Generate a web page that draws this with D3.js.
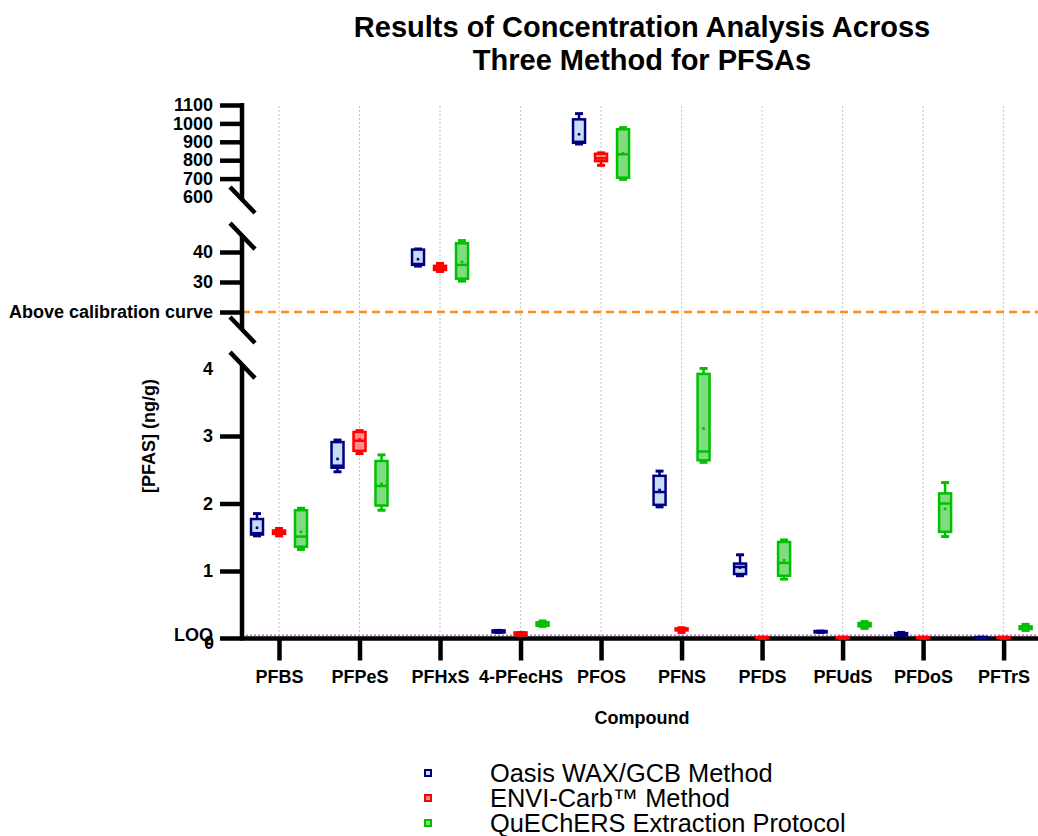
<!DOCTYPE html>
<html>
<head>
<meta charset="utf-8">
<script src="https://cdn.jsdelivr.net/npm/d3@7"></script>
<style>
  html, body { margin: 0; padding: 0; background: #fff; }
  svg { display: block; font-family: "Liberation Sans", Arial, Helvetica, sans-serif; }
</style>
</head>
<body>
<svg id="chart" width="1038" height="836"></svg>
<script>
// ---------------- data ----------------
const categories = ["PFBS","PFPeS","PFHxS","4-PFecHS","PFOS","PFNS","PFDS","PFUdS","PFDoS","PFTrS"];
const methods = ["Oasis WAX/GCB Method","ENVI-Carb\u2122 Method","QuEChERS Extraction Protocol"];

// Oasis WAX/GCB
const oasisMin  = [1.52, 2.47, 35.3, 0.09, 888, 1.95, 0.93, 0.09, 0.04, 0.01];
const oasisQ1   = [1.54, 2.53, 35.7, 0.09, 895, 1.98, 0.955,0.09, 0.045,0.01];
const oasisMed  = [1.56, 2.56, 36.0, 0.10, 900, 2.17, 1.06, 0.10, 0.05, 0.015];
const oasisQ3   = [1.77, 2.91, 40.8, 0.12, 1022,2.41, 1.11, 0.11, 0.08, 0.02];
const oasisMax  = [1.85, 2.94, 41.0, 0.12, 1053,2.48, 1.24, 0.11, 0.09, 0.02];
const oasisMean = [1.64, 2.66, 37.6, 0.11, 941, 2.20, 1.05, 0.10, 0.06, 0.015];

// ENVI-Carb
const enviMin  = [1.52, 2.74, 33.5, 0.05, 772, 0.09, 0.00, 0.00, 0.00, 0.00];
const enviQ1   = [1.55, 2.78, 34.0, 0.05, 795, 0.12, 0.005,0.005,0.005,0.005];
const enviMed  = [1.57, 2.93, 34.7, 0.07, 810, 0.13, 0.01, 0.01, 0.01, 0.01];
const enviQ3   = [1.60, 3.06, 35.4, 0.09, 835, 0.15, 0.02, 0.02, 0.02, 0.02];
const enviMax  = [1.63, 3.08, 36.2, 0.09, 840, 0.16, 0.02, 0.02, 0.02, 0.02];
const enviMean = [1.57, 2.95, 34.7, 0.07, 812, 0.13, 0.01, 0.01, 0.01, 0.01];

// QuEChERS
const quechMin  = [1.32, 1.90, 30.3, 0.18, 696, 2.61, 0.88, 0.15, 1.51, 0.12];
const quechQ1   = [1.36, 1.97, 31.1, 0.19, 705, 2.64, 0.93, 0.18, 1.58, 0.14];
const quechMed  = [1.51, 2.26, 35.7, 0.21, 832, 2.77, 1.12, 0.21, 2.00, 0.16];
const quechQ3   = [1.90, 2.63, 42.9, 0.24, 968, 3.92, 1.43, 0.23, 2.15, 0.18];
const quechMax  = [1.93, 2.72, 43.8, 0.26, 977, 4.00, 1.46, 0.25, 2.31, 0.21];
const quechMean = [1.58, 2.29, 36.7, 0.21, 837, 3.11, 1.16, 0.21, 1.92, 0.16];

// axis ticks
const topTicks = [600, 700, 800, 900, 1000, 1100];
const midTicks = [20, 30, 40];
const botTicks = [0, 1, 2, 3, 4];
const loqValue = 0.05;
const calibValue = 20;

// ---------------- styles ----------------
const strokeColors = ["#00007f", "#ff0000", "#00c000"];
const fillColors = ["#c8dcf6", "#ff8c8c", "#80dc80"];

const svg = d3.select("#chart");

// ---------------- scales ----------------
const axisX = 242;
const yTop = d3.scaleLinear().domain([600, 1100]).range([197, 105]);
const yMid = d3.scaleLinear().domain([20, 40]).range([312, 252]);
const yBot = d3.scaleLinear().domain([0, 4]).range([638.5, 368.5]);
const topExt = [584, 1111], midExt = [14, 45.3], botExt = [0, 4.05];

function y(v) {
  if (v >= 500) return yTop(v);
  if (v >= 10) return yMid(v);
  return yBot(v);
}

const x = d3.scalePoint().domain(categories).range([279, 1003.6]);
const xOff = d3.scalePoint().domain(methods).range([-22, 22]);

const tickFont = "bold 18px 'Liberation Sans', Arial, sans-serif";

// ---------------- gridlines ----------------
svg.append("g").selectAll("line").data(categories).join("line")
  .attr("x1", d => x(d)).attr("x2", d => x(d))
  .attr("y1", yTop(1100) + 1).attr("y2", yBot(0))
  .attr("stroke", "#c4c4c4").attr("stroke-width", 1).attr("stroke-dasharray", "2,2");

// ---------------- reference lines ----------------
svg.append("line")
  .attr("x1", axisX).attr("x2", 1044)
  .attr("y1", yMid(calibValue)).attr("y2", yMid(calibValue))
  .attr("stroke", "#ff8c1a").attr("stroke-width", 2.5).attr("stroke-dasharray", "8,5");

svg.append("line")
  .attr("x1", axisX).attr("x2", 1044)
  .attr("y1", yBot(loqValue)).attr("y2", yBot(loqValue))
  .attr("stroke", "#cc66ee").attr("stroke-width", 1.5).attr("stroke-dasharray", "2,2");

// ---------------- y axis segments ----------------
function segAxis(scale, ticks, fmt, hideTicks) {
  const g = svg.append("g").attr("transform", `translate(${axisX},0)`)
    .call(d3.axisLeft(scale).tickValues(ticks).tickSize(22).tickPadding(7).tickFormat(fmt));
  g.select(".domain").remove();
  g.selectAll(".tick line").attr("stroke", "#000").attr("stroke-width", 4.5)
    .attr("display", d => hideTicks.includes(d) ? "none" : null);
  g.selectAll(".tick text").style("font", tickFont).attr("fill", "#000");
  return g;
}
segAxis(yTop, topTicks, d3.format("d"), [600]);
segAxis(yMid, midTicks, d => d === calibValue ? "Above calibration curve" : d, []);
const gBot = segAxis(yBot, botTicks, d3.format("d"), [0, 4]);
gBot.selectAll(".tick text").filter(d => d === 0).attr("dy", "0.55em").attr("x", -28);

// LOQ label
svg.append("text")
  .attr("x", 213).attr("y", yBot(loqValue)).attr("dy", "0.35em")
  .attr("text-anchor", "end").style("font", tickFont).text("LOQ");

// segment lines
[[yTop, topExt], [yMid, midExt], [yBot, botExt]].forEach(([s, ext]) => {
  svg.append("line")
    .attr("x1", axisX).attr("x2", axisX)
    .attr("y1", s(ext[0]) + (s === yBot ? 2 : 0)).attr("y2", s(ext[1]))
    .attr("stroke", "#000").attr("stroke-width", 4.5);
});
// break marks
const breakYs = [yTop(topExt[0]), yMid(midExt[1]), yMid(midExt[0]), yBot(botExt[1])];
svg.append("g").selectAll("line").data(breakYs).join("line")
  .attr("x1", axisX - 12).attr("y1", d => d - 13)
  .attr("x2", axisX + 13).attr("y2", d => d + 13)
  .attr("stroke", "#000").attr("stroke-width", 4.5);

// ---------------- x axis ----------------
const gx = svg.append("g").attr("transform", `translate(0,${yBot(0)})`)
  .call(d3.axisBottom(x).tickSize(22).tickPadding(10));
gx.select(".domain").remove();
gx.selectAll(".tick line").attr("stroke", "#000").attr("stroke-width", 4.5);
gx.selectAll(".tick text").style("font", tickFont).attr("fill", "#000");
svg.append("line")
  .attr("x1", 220).attr("x2", 1044)
  .attr("y1", yBot(0)).attr("y2", yBot(0))
  .attr("stroke", "#000").attr("stroke-width", 4.5);

// ---------------- boxes ----------------
const stats = [
  [oasisMin, oasisQ1, oasisMed, oasisQ3, oasisMax, oasisMean],
  [enviMin, enviQ1, enviMed, enviQ3, enviMax, enviMean],
  [quechMin, quechQ1, quechMed, quechQ3, quechMax, quechMean]
];
const records = [];
methods.forEach((m, mi) => {
  categories.forEach((c, ci) => {
    const s = stats[mi];
    records.push({ m, mi, c, min: s[0][ci], q1: s[1][ci], med: s[2][ci], q3: s[3][ci], max: s[4][ci], mean: s[5][ci] });
  });
});

const boxW = 12, capW = 8;
const gb = svg.append("g").selectAll("g").data(records).join("g")
  .attr("transform", d => `translate(${x(d.c) + xOff(d.m)},0)`);

gb.append("line")
  .attr("x1", 0).attr("x2", 0)
  .attr("y1", d => y(d.min)).attr("y2", d => y(d.max))
  .attr("stroke", d => strokeColors[d.mi]).attr("stroke-width", 2.5);
gb.selectAll(".cap").data(d => [{ v: d.min, mi: d.mi }, { v: d.max, mi: d.mi }]).join("line")
  .attr("class", "cap")
  .attr("x1", -capW / 2).attr("x2", capW / 2)
  .attr("y1", d => y(d.v)).attr("y2", d => y(d.v))
  .attr("stroke", d => strokeColors[d.mi]).attr("stroke-width", 3);
gb.append("rect")
  .attr("x", -boxW / 2).attr("width", boxW)
  .attr("y", d => y(d.q3)).attr("height", d => Math.max(0.5, y(d.q1) - y(d.q3)))
  .attr("fill", d => fillColors[d.mi]).attr("stroke", d => strokeColors[d.mi]).attr("stroke-width", 2.5);
gb.append("line")
  .attr("x1", -boxW / 2).attr("x2", boxW / 2)
  .attr("y1", d => y(d.med)).attr("y2", d => y(d.med))
  .attr("stroke", d => strokeColors[d.mi]).attr("stroke-width", 2.5);
gb.append("rect")
  .attr("x", -1.3).attr("width", 2.6)
  .attr("y", d => y(d.mean) - 1.3).attr("height", 2.6)
  .attr("fill", d => strokeColors[d.mi]);

// ---------------- titles ----------------
svg.append("text").attr("x", 642).attr("y", 37).attr("text-anchor", "middle")
  .style("font", "bold 29px 'Liberation Sans', Arial, sans-serif")
  .text("Results of Concentration Analysis Across");
svg.append("text").attr("x", 642).attr("y", 70).attr("text-anchor", "middle")
  .style("font", "bold 29px 'Liberation Sans', Arial, sans-serif")
  .text("Three Method for PFSAs");

svg.append("text").attr("x", 642).attr("y", 724).attr("text-anchor", "middle")
  .style("font", tickFont).text("Compound");

svg.append("text")
  .attr("transform", "translate(155,436) rotate(-90)")
  .attr("text-anchor", "middle")
  .style("font", tickFont).text("[PFAS] (ng/g)");

// ---------------- legend ----------------
const legendY = d3.scalePoint().domain(methods).range([773, 823]);
const lg = svg.append("g").selectAll("g").data(methods).join("g")
  .attr("transform", d => `translate(0,${legendY(d)})`);
lg.append("rect")
  .attr("x", 425).attr("y", -3).attr("width", 6).attr("height", 6)
  .attr("fill", (d, i) => fillColors[i]).attr("stroke", (d, i) => strokeColors[i]).attr("stroke-width", 2);
lg.append("text")
  .attr("x", 490).attr("dy", "0.36em")
  .style("font", "25.4px 'Liberation Sans', Arial, sans-serif")
  .attr("fill", "#000")
  .text(d => d);
</script>
</body>
</html>
